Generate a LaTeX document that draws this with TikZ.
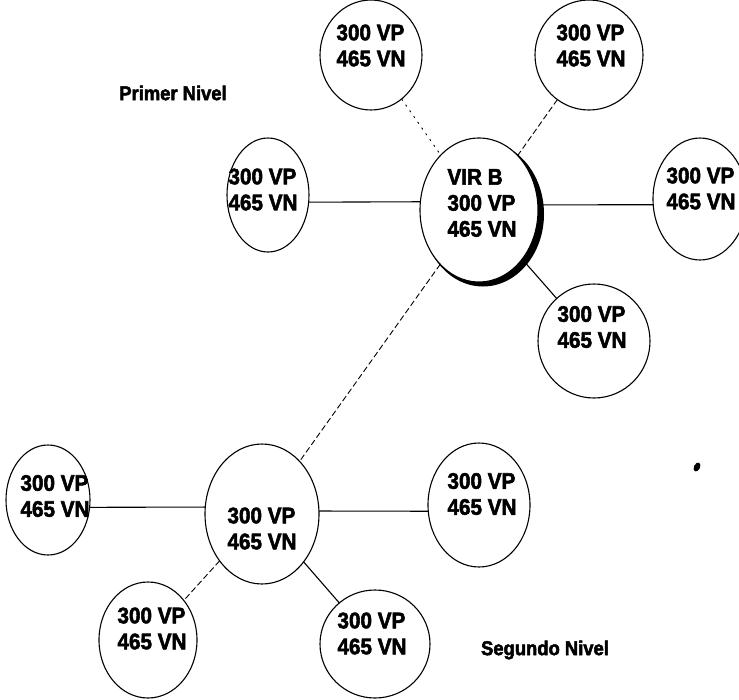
\documentclass[tikz,border=0pt]{standalone}
\usepackage{fontspec}
\setmainfont{Liberation Sans}
\newfontfamily\heavyfam[FakeStretch=0.92,FakeBold=2.4]{Liberation Sans Bold}
\usetikzlibrary{shapes.geometric}
\newcommand\vtfont{\heavyfam\fontsize{22.5}{26}\selectfont}
\newcommand\lvfont{\heavyfam\fontsize{20}{23}\selectfont}
\tikzset{
  ringnode/.style={draw, ellipse, line width=1.1pt, inner sep=0pt, outer sep=0pt},
  vtxt/.style={font=\vtfont, align=left, inner sep=0pt},
  lvltxt/.style={font=\lvfont, inner sep=0pt},
  linkline/.style={line width=1.1pt},
  faintline/.style={line width=0.9pt, dash pattern=on 6pt off 3pt},
  dotline/.style={line width=0.9pt, dash pattern=on 2pt off 5pt}
}
\begin{document}
\begin{tikzpicture}[x=1pt,y=-1pt]
\useasboundingbox (0,0) rectangle (739,699);
% central node with shadow
\fill (483,214) ellipse [x radius=61pt, y radius=72.5pt];
\node[ringnode, fill=white, minimum width=118pt, minimum height=144pt] (C) at (479,210) {};
\node[vtxt] (Ct) at (482,203) {VIR B\\300 VP\\465 VN};
% first level satellites
\node[ringnode, minimum width=102pt, minimum height=110pt] (S1) at (371,55) {};
\node[vtxt] (S1t) at (371,45.5) {300 VP\\465 VN};
\node[ringnode, minimum width=108pt, minimum height=110pt] (S2) at (589,55) {};
\node[vtxt] (S2t) at (591,45.5) {300 VP\\465 VN};
\node[ringnode, minimum width=82pt, minimum height=114pt] (S3) at (268,195) {};
\node[vtxt] (S3t) at (263,189.5) {300 VP\\465 VN};
\node[ringnode, minimum width=94pt, minimum height=122pt] (S4) at (700,199) {};
\node[vtxt] (S4t) at (701,188.5) {300 VP\\465 VN};
\node[ringnode, minimum width=112pt, minimum height=114pt] (S5) at (594,341) {};
\node[vtxt] (S5t) at (592,327) {300 VP\\465 VN};
% second level
\node[ringnode, minimum width=114pt, minimum height=140pt] (L) at (262,514) {};
\node[vtxt] (Lt) at (262,528.5) {300 VP\\465 VN};
\node[ringnode, minimum width=84pt, minimum height=110pt] (T1) at (48,500) {};
\node[vtxt] (T1t) at (55,496) {300 VP\\465 VN};
\node[ringnode, minimum width=102pt, minimum height=124pt] (T2) at (479,505) {};
\node[vtxt] (T2t) at (482,494) {300 VP\\465 VN};
\node[ringnode, minimum width=98pt, minimum height=116pt] (T3) at (148,640) {};
\node[vtxt] (T3t) at (152,628.5) {300 VP\\465 VN};
\node[ringnode, minimum width=110pt, minimum height=108pt] (T4) at (375,644) {};
\node[vtxt] (T4t) at (372,633.5) {300 VP\\465 VN};
% connectors
\draw[dotline] (S1) -- (C);
\draw[faintline] (S2) -- (C);
\draw[linkline] (S3.-10) -- (C.172);
\draw[linkline] (C.5) -- (S4.187);
\draw[linkline] (C) -- (S5);
\draw[faintline] (C) -- (L);
\draw[linkline] (T1.-10) -- (L.173);
\draw[linkline] (L.3) -- (T2.187);
\draw[linkline] (L) -- (T4);
\draw[faintline] (L) -- (T3);
% labels
\node[lvltxt] (P) at (173,93) {Primer Nivel};
\node[lvltxt] (SN) at (545,650) {Segundo Nivel};
% speck
\fill[rotate around={-25:(697,467)}] (697,467) ellipse [x radius=3pt, y radius=4.8pt];
\end{tikzpicture}
\end{document}
